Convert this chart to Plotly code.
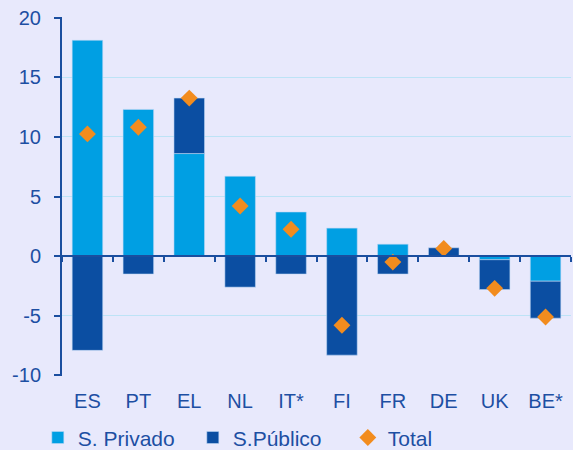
import plotly.graph_objects as go

categories = ["ES", "PT", "EL", "NL", "IT*", "FI", "FR", "DE", "UK", "BE*"]
privado = [18.1, 12.3, 8.6, 6.7, 3.7, 2.35, 1.0, 0.0, -0.3, -2.1]
publico = [-7.9, -1.5, 4.65, -2.6, -1.5, -8.3, -1.5, 0.7, -2.5, -3.1]
total = [10.25, 10.8, 13.25, 4.2, 2.25, -5.8, -0.5, 0.65, -2.7, -5.1]

y_ticks = [-10, -5, 0, 5, 10, 15, 20]
y_labels = ["-10", "-5", "0", "5", "10", "15", "20"]

C_PRIV = "#009FE3"
C_PUB = "#0B4EA2"
C_TOT = "#F28C1E"
C_TXT = "#1D4FA3"
C_AX = "#1A4E9F"
C_GRID = "#BDE3F6"
C_BG = "#E8E9FC"

fig = go.Figure()
fig.add_trace(go.Bar(x=categories, y=privado, name="S. Privado", marker_color=C_PRIV,
                     marker_line=dict(color="rgba(190,215,245,0.7)", width=0.8), width=0.6))
fig.add_trace(go.Bar(x=categories, y=publico, name="S.Público", marker_color=C_PUB,
                     marker_line=dict(color="rgba(190,215,245,0.7)", width=0.8), width=0.6))
fig.add_trace(go.Scatter(x=categories, y=total, name="Total", mode="markers",
                         marker=dict(symbol="diamond", size=13, color=C_TOT)))
# invisible trace to carry the zero-line axis with boundary ticks
fig.add_trace(go.Scatter(x=categories, y=[None] * len(categories), xaxis="x2",
                         showlegend=False, hoverinfo="skip", mode="markers"))

fig.update_layout(
    width=573, height=450,
    margin=dict(l=62, r=2, t=17, b=74, autoexpand=False),
    barmode="relative",
    paper_bgcolor=C_BG, plot_bgcolor=C_BG,
    font=dict(family="Liberation Sans, Arial, sans-serif", color=C_TXT),
    showlegend=True,
    legend=dict(orientation="h", xref="container", yref="container",
                x=0.066, y=0.027, xanchor="left", yanchor="middle",
                font=dict(size=21, color=C_TXT), itemwidth=30, traceorder="normal",
                entrywidth=110, entrywidthmode="pixels",
                bgcolor="rgba(0,0,0,0)"),
    xaxis=dict(range=[-0.5, 9.5], showline=False, ticks="", showgrid=False,
               tickfont=dict(size=20, color=C_TXT), ticklabelstandoff=11, zeroline=False),
    xaxis2=dict(range=[-0.5, 9.5], overlaying="x", anchor="free", position=10.05/30.1,
                side="bottom", showline=True, linecolor=C_AX, linewidth=2,
                ticks="outside", tickson="boundaries", ticklen=5, tickwidth=2,
                tickcolor=C_AX, showticklabels=False, showgrid=False, zeroline=False),
    yaxis=dict(range=[-10.05, 20.05], tickvals=y_ticks, ticktext=y_labels,
               showline=True, linecolor=C_AX, linewidth=2,
               ticks="outside", ticklen=6, tickwidth=2, tickcolor=C_AX,
               showgrid=True, gridcolor=C_GRID, gridwidth=1, zeroline=False,
               tickfont=dict(size=20, color=C_TXT), ticklabelstandoff=9),
    hovermode=False,
)

fig.write_html("out.html", config={"displayModeBar": False},
               post_script="document.body.style.margin='0';")
